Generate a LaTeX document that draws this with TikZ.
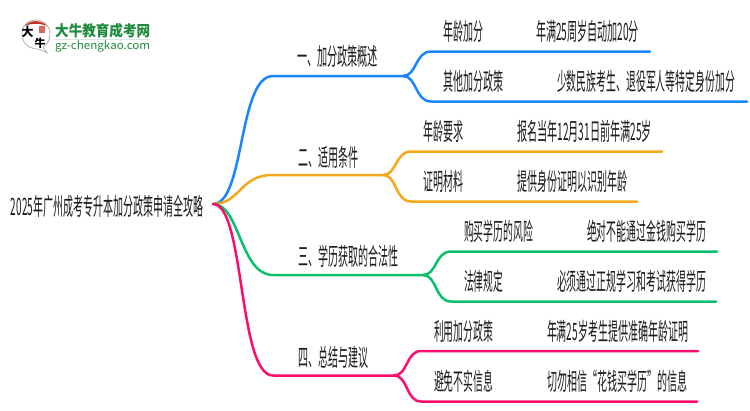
\documentclass[tikz,border=0pt]{standalone}
\usepackage{fontspec}
\usepackage{graphicx}
\setmainfont{Noto Sans CJK SC}
\definecolor{cblue}{HTML}{1A85FF}
\definecolor{corange}{HTML}{F5A81C}
\definecolor{cgreen}{HTML}{0CBF6B}
\definecolor{cpink}{HTML}{FB0F6E}
\definecolor{ctext}{HTML}{1C1C1C}
\definecolor{logogreen}{HTML}{1E8A3C}
\definecolor{logored}{HTML}{C8352B}
\newcommand{\lab}[5]{\node[lab] (#1) at (#2,#3+1.5) {\resizebox{#4pt}{\height}{#5}};}
\tikzset{
  lab/.style={anchor=base west,inner sep=0pt,outer sep=0pt,text=ctext,font=\fontsize{24}{24}\selectfont},
  conn/.style={line width=2.5pt,line cap=round}
}
\begin{document}
\begin{tikzpicture}[x=1pt,y=-1pt]
\useasboundingbox (0,0) rectangle (750,410);
\fill[white] (0,0) rectangle (750,410);
% logo
\draw[line width=0.8pt,draw=black!30,fill=white] (47,53) .. controls (42,50) and (38,49) .. (34,48.5) .. controls (25,47) and (21,39) .. (22,32) .. controls (23,24) and (29,20) .. (36,20) .. controls (44,20) and (50,26) .. (50,34) .. controls (50,40) and (47,45) .. (43,47) -- cycle;
\fill[logored] (25,26) .. controls (29,19.5) and (42,19.5) .. (47,26) .. controls (40,23) and (31,23) .. (25,26) -- cycle;
\fill[logored!75] (39,26) rectangle (45,33);
\node[inner sep=0pt,font=\fontsize{12}{12}\selectfont\bfseries,text=black] (logoa) at (27.5,31.5) {大};
\node[inner sep=0pt,font=\fontsize{11}{11}\selectfont\bfseries,text=black] (logob) at (40,43) {牛};
\node[anchor=base west,inner sep=0pt,font=\fontsize{15}{15}\selectfont\bfseries,text=logogreen] (logoc) at (55,36) {\resizebox{95pt}{\height}{大牛教育成考网}};
\fill[logogreen!20] (55,38.5) rectangle (150,40);
\node[anchor=base west,inner sep=0pt,font=\fontsize{11}{11}\selectfont,text=logogreen] (logod) at (55,49) {\resizebox{95pt}{\height}{gz-chengkao.com}};
% labels
\lab{root}{11}{214}{192}{2025年广州成考专升本加分政策申请全攻略}
\lab{ba}{297}{64}{81}{一、加分政策概述}
\lab{bb}{298}{165}{60}{二、适用条件}
\lab{bc}{298}{264}{100}{三、学历获取的合法性}
\lab{bd}{298}{365}{70}{四、总结与建议}
\lab{a1}{443}{39}{40}{年龄加分}
\lab{a2}{443}{89}{60}{其他加分政策}
\lab{a3}{536}{39}{103}{年满25周岁自动加20分}
\lab{a4}{557}{89}{178}{少数民族考生、退役军人等特定身份加分}
\lab{b1}{423}{139}{40}{年龄要求}
\lab{b2}{423}{189}{40}{证明材料}
\lab{b3}{517}{139}{135}{报名当年12月31日前年满25岁}
\lab{b4}{517}{189}{110}{提供身份证明以识别年龄}
\lab{c1}{464}{239}{69}{购买学历的风险}
\lab{c2}{464}{289}{39}{法律规定}
\lab{c3}{587}{239}{119}{绝对不能通过金钱购买学历}
\lab{c4}{557}{289}{149}{必须通过正规学习和考试获得学历}
\lab{d1}{434}{339}{59}{利用加分政策}
\lab{d2}{434}{389}{59}{避免不实信息}
\lab{d3}{547}{339}{141}{年满25岁考生提供准确年龄证明}
\lab{d4}{547}{389}{140}{切勿相信“花钱买学历”的信息}
% connector points
\coordinate (o) at (213,204);
\foreach \n/\x/\y in {sa/273/76,fa/403/76,sb/272/175,fb/383/175,sc/273/275,fc/423/275,sd/273/375.5,fd/394/375.5,
  a1s/431/51.5,a1e/650/51.5,a2s/431/101.5,a2e/747/101.5,
  b1s/411/151.5,b1e/662/151.5,b2s/411/201.5,b2e/637/201.5,
  c1s/451/251.5,c1e/717/251.5,c2s/451/301.5,c2e/716/301.5,
  d1s/421/351,d1e/698/351,d2s/421/401.5,d2e/697/401.5}
  {\coordinate (\n) at (\x,\y);}
\draw[conn,cblue] (o) .. controls (245,204) and (238,76) .. (sa) -- (fa);
\draw[conn,cblue] (fa) .. controls (417,76) and (415,51.5) .. (a1s) -- (a1e);
\draw[conn,cblue] (fa) .. controls (417,76) and (415,101.5) .. (a2s) -- (a2e);
\draw[conn,corange] (o) .. controls (240,204) and (240,175) .. (sb) -- (fb);
\draw[conn,corange] (fb) .. controls (397,175) and (395,151.5) .. (b1s) -- (b1e);
\draw[conn,corange] (fb) .. controls (397,175) and (395,201.5) .. (b2s) -- (b2e);
\draw[conn,cgreen] (o) .. controls (240,204) and (240,275) .. (sc) -- (fc);
\draw[conn,cgreen] (fc) .. controls (437,275) and (435,251.5) .. (c1s) -- (c1e);
\draw[conn,cgreen] (fc) .. controls (437,275) and (435,301.5) .. (c2s) -- (c2e);
\draw[conn,cpink] (o) .. controls (245,204) and (238,375.5) .. (sd) -- (fd);
\draw[conn,cpink] (fd) .. controls (408,375.5) and (406,351) .. (d1s) -- (d1e);
\draw[conn,cpink] (fd) .. controls (408,375.5) and (406,401.5) .. (d2s) -- (d2e);
\end{tikzpicture}
\end{document}
